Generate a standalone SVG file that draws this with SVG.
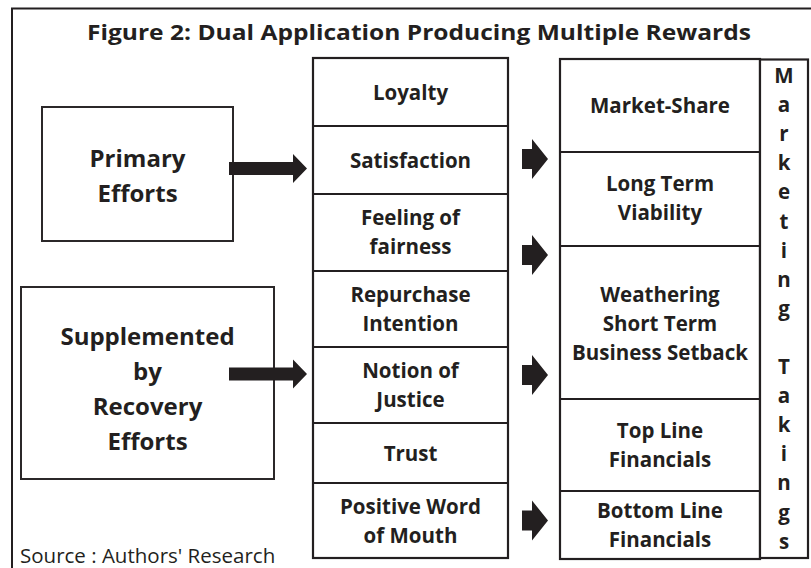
<svg xmlns="http://www.w3.org/2000/svg" xmlns:xlink="http://www.w3.org/1999/xlink" width="811" height="568" viewBox="0 0 811 568">
  <style>
    .box { fill: #ffffff; stroke: #231f20; stroke-width: 2.2; }
    .lbox { fill: #ffffff; stroke: #2b2829; stroke-width: 2; }
    .div { stroke: #231f20; stroke-width: 2.2; fill: none; }
    .lbl { font-family: "Open Sans", "Liberation Sans", sans-serif; font-weight: 700; font-size: 20.5px; fill: #231f20; text-anchor: middle; }
    .big { font-size: 24px; }
    .arrow { fill: #231f20; }
  </style>
  <defs>
    <!-- wide block arrow, origin at tail centre -->
    <path id="bigArrow" d="M0,-6.5 H64 V-14.5 L78,0 L64,14.5 V6.5 H0 Z"/>
    <!-- short block arrow, origin at tail centre -->
    <path id="smallArrow" d="M0,-10 H10 V-20 L26,0 L10,20 V10 H0 Z"/>
  </defs>

  <rect width="811" height="568" fill="#ffffff"/>
  <!-- outer frame -->
  <path d="M12,572 V8.5 H815" fill="none" stroke="#231f20" stroke-width="2"/>

  <g id="title">
    <text x="419" y="40" class="lbl" font-size="27" textLength="664" lengthAdjust="spacingAndGlyphs">Figure 2: Dual Application Producing Multiple Rewards</text>
  </g>

  <g id="primary-efforts">
    <rect class="lbox" x="42" y="107" width="191" height="134"/>
    <text class="lbl big" x="137.5" y="167">Primary</text>
    <text class="lbl big" x="137.5" y="202">Efforts</text>
  </g>

  <g id="recovery-efforts">
    <rect class="lbox" x="21" y="287" width="253" height="192"/>
    <text class="lbl big" x="147.5" y="345">Supplemented</text>
    <text class="lbl big" x="147.5" y="380">by</text>
    <text class="lbl big" x="147.5" y="415">Recovery</text>
    <text class="lbl big" x="147.5" y="450">Efforts</text>
  </g>

  <!-- customer outcomes column -->
  <g id="outcomes">
    <rect class="box" x="313" y="58" width="195" height="500"/>
    <path class="div" d="M313,126 H508 M313,194 H508 M313,271 H508 M313,347 H508 M313,423 H508 M313,483 H508"/>
    <g id="loyalty"><text class="lbl" x="410.5" y="99.5">Loyalty</text></g>
    <g id="satisfaction"><text class="lbl" x="410.5" y="168">Satisfaction</text></g>
    <g id="fairness"><text class="lbl" x="410.5" y="225">Feeling of</text><text class="lbl" x="410.5" y="254">fairness</text></g>
    <g id="repurchase"><text class="lbl" x="410.5" y="302">Repurchase</text><text class="lbl" x="410.5" y="331">Intention</text></g>
    <g id="justice"><text class="lbl" x="410.5" y="378">Notion of</text><text class="lbl" x="410.5" y="407">Justice</text></g>
    <g id="trust"><text class="lbl" x="410.5" y="461">Trust</text></g>
    <g id="word-of-mouth"><text class="lbl" x="410.5" y="513.5">Positive Word</text><text class="lbl" x="410.5" y="542.5">of Mouth</text></g>
  </g>

  <!-- business rewards column -->
  <g id="rewards">
    <rect class="box" x="560" y="59" width="200" height="500"/>
    <path class="div" d="M560,152 H760 M560,246 H760 M560,399 H760 M560,491 H760"/>
    <g id="market-share"><text class="lbl" x="660" y="113">Market-Share</text></g>
    <g id="viability"><text class="lbl" x="660" y="191">Long Term</text><text class="lbl" x="660" y="220">Viability</text></g>
    <g id="setback"><text class="lbl" x="660" y="302">Weathering</text><text class="lbl" x="660" y="331">Short Term</text><text class="lbl" x="660" y="360">Business Setback</text></g>
    <g id="top-line"><text class="lbl" x="660" y="438">Top Line</text><text class="lbl" x="660" y="467">Financials</text></g>
    <g id="bottom-line"><text class="lbl" x="660" y="518">Bottom Line</text><text class="lbl" x="660" y="547">Financials</text></g>
  </g>

  <g id="marketing-takings">
    <rect class="box" x="760" y="59.5" width="48" height="498.5"/>
    <text class="lbl" x="784" y="83">M<tspan x="784" dy="29.1">a</tspan><tspan x="784" dy="29.1">r</tspan><tspan x="784" dy="29.1">k</tspan><tspan x="784" dy="29.1">e</tspan><tspan x="784" dy="29.1">t</tspan><tspan x="784" dy="29.1">i</tspan><tspan x="784" dy="29.1">n</tspan><tspan x="784" dy="29.1">g</tspan><tspan x="784" dy="58.2">T</tspan><tspan x="784" dy="29.1">a</tspan><tspan x="784" dy="29.1">k</tspan><tspan x="784" dy="29.1">i</tspan><tspan x="784" dy="29.1">n</tspan><tspan x="784" dy="29.1">g</tspan><tspan x="784" dy="29.1">s</tspan></text>
  </g>

  <g id="connectors" class="arrow">
    <use xlink:href="#bigArrow" transform="translate(229,168.5)"/>
    <use xlink:href="#bigArrow" transform="translate(229,374)"/>
    <use xlink:href="#smallArrow" transform="translate(522,159)"/>
    <use xlink:href="#smallArrow" transform="translate(522,255)"/>
    <use xlink:href="#smallArrow" transform="translate(522,375)"/>
    <use xlink:href="#smallArrow" transform="translate(522,520.5)"/>
  </g>

  <g id="source">
    <text x="20" y="563" font-family="'Open Sans', 'Liberation Sans', sans-serif" font-size="20.5" fill="#231f20">Source : Authors' Research</text>
  </g>
</svg>
